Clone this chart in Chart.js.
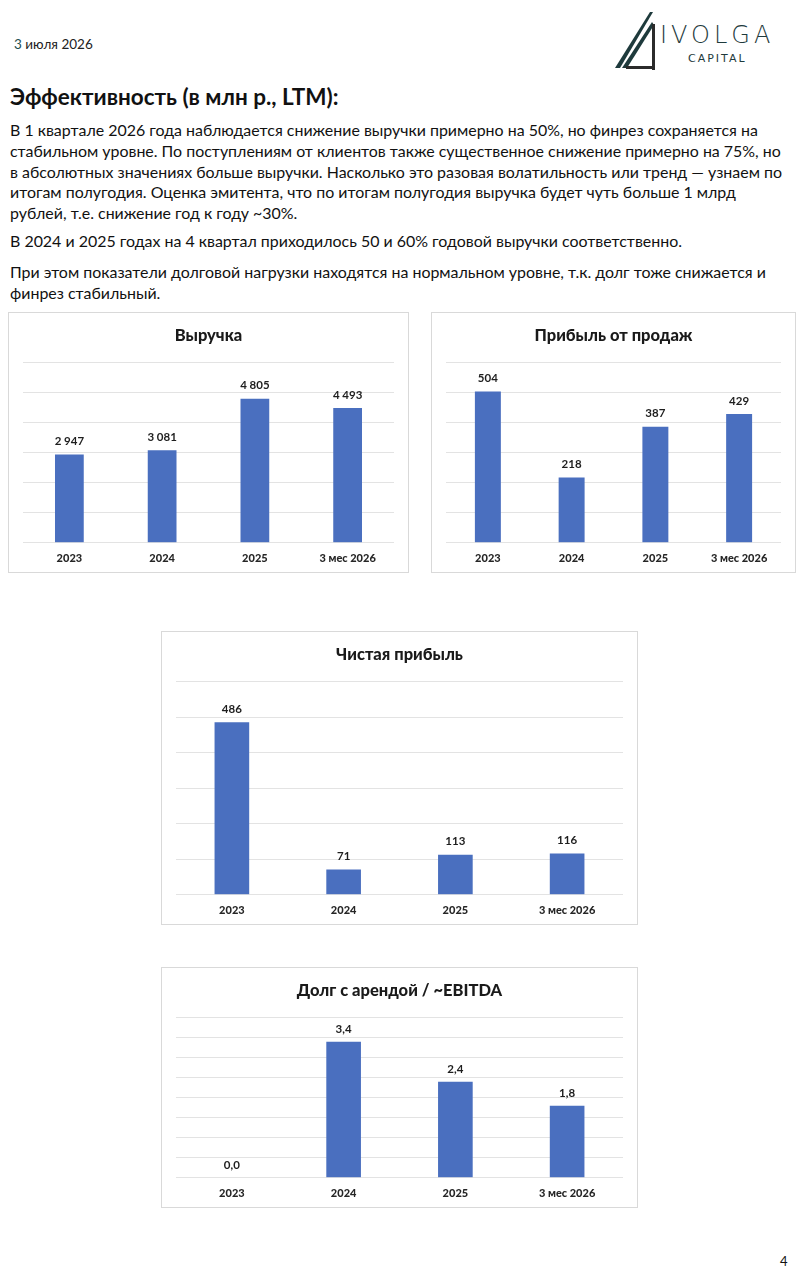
<!DOCTYPE html>
<html>
<head>
<meta charset="utf-8">
<script src="https://cdn.jsdelivr.net/npm/chart.js@4.4.1/dist/chart.umd.min.js"></script>
<style>
  body { margin: 0; width: 801px; height: 1280px; background: #fff; position: relative; overflow: hidden; font-family: "Lato", "Noto Sans", sans-serif; color: #111; }
  .date { position: absolute; left: 14px; top: 36px; font-size: 13.5px; color: #222; }
  .date b { color: #1f4f4f; font-weight: normal; }
  .logo { position: absolute; left: 612px; top: 10px; width: 170px; height: 62px; }
  h1 { position: absolute; left: 10px; top: 83px; margin: 0; font-size: 22.5px; font-weight: bold; white-space: nowrap; }
  .txt { position: absolute; left: 10px; top: 120px; font-size: 15.95px; line-height: 20.8px; white-space: nowrap; }
  .txt p { margin: 0 0 7px 0; }
  .box { position: absolute; border: 1px solid #d9d9d9; background: #fff; }
  .box canvas { display: block; }
  .page { position: absolute; left: 780px; top: 1253px; font-size: 13px; }
</style>
</head>
<body>
<div class="date"><b>3</b> июля 2026</div>
<svg class="logo" viewBox="0 0 170 62">
  <polygon points="3,58 38,2 41,2 8,58" fill="#1e3a3c"/>
  <polygon points="10,58 40,12 42,15 15,58" fill="#1e3a3c"/>
  <rect x="40" y="14" width="3" height="46" fill="#2b2b2b"/>
  <rect x="14" y="56" width="29" height="3" fill="#2b2b2b"/>
  <text x="48" y="33" font-family="DejaVu Sans" font-size="24" fill="#1e3a3c" letter-spacing="4" font-weight="300">IVOLGA</text>
  <text x="76" y="52" font-family="DejaVu Sans" font-size="11" fill="#1e3a3c" letter-spacing="2">CAPITAL</text>
</svg>

<h1>Эффективность (в млн р., LTM):</h1>
<div class="txt">
  <p>В 1 квартале 2026 года наблюдается снижение выручки примерно на 50%, но финрез сохраняется на<br>
  стабильном уровне. По поступлениям от клиентов также существенное снижение примерно на 75%, но<br>
  в абсолютных значениях больше выручки. Насколько это разовая волатильность или тренд — узнаем по<br>
  итогам полугодия. Оценка эмитента, что по итогам полугодия выручка будет чуть больше 1 млрд<br>
  рублей, т.е. снижение год к году ~30%.</p>
  <p style="margin-bottom:10px">В 2024 и 2025 годах на 4 квартал приходилось 50 и 60% годовой выручки соответственно.</p>
  <p>При этом показатели долговой нагрузки находятся на нормальном уровне, т.к. долг тоже снижается и<br>
  финрез стабильный.</p>
</div>

<div class="box" style="left:8px;top:312px;"><canvas id="c1" width="399" height="259"></canvas></div>
<div class="box" style="left:431px;top:312px;"><canvas id="c2" width="363" height="259"></canvas></div>
<div class="box" style="left:161px;top:631px;"><canvas id="c3" width="475" height="292"></canvas></div>
<div class="box" style="left:161px;top:967px;"><canvas id="c4" width="475" height="239"></canvas></div>

<div class="page">4</div>

<script>
// данные
const years = ["2023", "2024", "2025", "3 мес 2026"];
const revenue = [2947, 3081, 4805, 4493];
const salesProfit = [504, 218, 387, 429];
const netProfit = [486, 71, 113, 116];
const debtEbitda = [0.0, 3.4, 2.4, 1.8];

const barColor = "#4a6fbf";
const fontName = "Lato, sans-serif";

Chart.defaults.font.family = fontName;
Chart.defaults.font.weight = "bold";
Chart.defaults.font.size = 11;

function fmtInt(v) {
  return String(Math.round(v)).replace(/\B(?=(\d{3})+(?!\d))/g, " ");
}
function fmtDec(v) {
  return v.toFixed(1).replace(".", ",");
}

// подписи над столбиками
const valueLabels = {
  id: "valueLabels",
  afterDatasetsDraw(chart, args, opts) {
    const ctx = chart.ctx;
    const meta = chart.getDatasetMeta(0);
    const data = chart.data.datasets[0].data;
    ctx.save();
    ctx.font = "bold 11.5px " + fontName;
    ctx.fillStyle = "#1e1e1e";
    ctx.textAlign = "center";
    ctx.textBaseline = "middle";
    meta.data.forEach((bar, i) => {
      ctx.fillText(opts.format(data[i]), bar.x, bar.y - 13);
    });
    ctx.restore();
  }
};

function makeChart(id, title, values, max, step, format) {
  const ctx = document.getElementById(id).getContext("2d");
  return new Chart(ctx, {
    type: "bar",
    data: {
      labels: years,
      datasets: [{
        data: values,
        backgroundColor: barColor,
        categoryPercentage: 1,
        barPercentage: 0.31
      }]
    },
    plugins: [valueLabels],
    options: {
      responsive: false,
      animation: false,
      layout: { padding: { left: 14, right: 14, top: 0, bottom: -2 } },
      plugins: {
        legend: { display: false },
        tooltip: { enabled: false },
        title: {
          display: true,
          text: title,
          color: "#1a1a1a",
          font: { family: fontName, size: 16.5, weight: 900 },
          padding: { top: 13, bottom: 17 }
        },
        valueLabels: { format: format }
      },
      scales: {
        x: {
          grid: { display: false, drawTicks: false },
          border: { display: false },
          ticks: { color: "#262626", font: { family: fontName, size: 11, weight: 900 }, padding: 9 }
        },
        y: {
          min: 0,
          max: max,
          ticks: { display: false, stepSize: step },
          grid: { color: "#e3e3e3", drawTicks: false },
          border: { display: false }
        }
      }
    }
  });
}

makeChart("c1", "Выручка", revenue, 6000, 1000, fmtInt);
makeChart("c2", "Прибыль от продаж", salesProfit, 600, 100, fmtInt);
makeChart("c3", "Чистая прибыль", netProfit, 600, 100, fmtInt);
makeChart("c4", "Долг с арендой / ~EBITDA", debtEbitda, 4, 0.5, fmtDec);
</script>
</body>
</html>
